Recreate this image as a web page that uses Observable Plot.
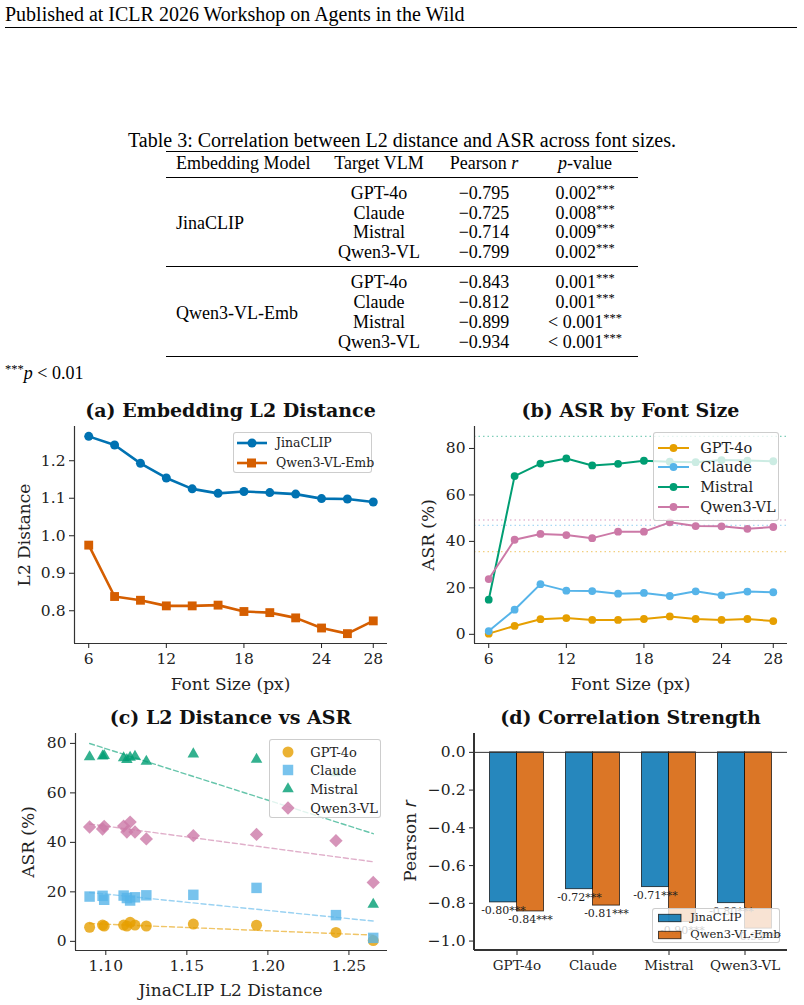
<!DOCTYPE html>
<html><head><meta charset="utf-8">
<script src="https://cdn.jsdelivr.net/npm/d3@7"></script>
<script src="https://cdn.jsdelivr.net/npm/@observablehq/plot@0.6"></script>
<style>
body{margin:0;background:#fff;}
#page{position:relative;width:804px;height:1005px;overflow:hidden;background:#fff;font-family:"Liberation Serif","Times New Roman",serif;color:#000;}
.abs{position:absolute;white-space:nowrap;line-height:1;}
.title{font-family:"DejaVu Serif",serif;font-weight:bold;font-size:19px;color:#111;}
.axl{font-family:"DejaVu Serif",serif;font-size:17px;color:#222;}
.legend{position:absolute;background:rgba(255,255,255,0.8);border:1px solid rgba(200,200,200,0.9);border-radius:3px;box-sizing:border-box;}
.legend .row{position:absolute;left:0;line-height:1;white-space:nowrap;font-family:"DejaVu Serif",serif;color:#222;}
.legend svg{position:absolute;}
sup.st{font-size:12.5px;vertical-align:6px;line-height:0;}
</style></head>
<body><div id="page"></div>
<script>
// ---------------- data ----------------
const fontSizes = [6, 8, 10, 12, 14, 16, 18, 20, 22, 24, 26, 28];
const embNames = ["JinaCLIP", "Qwen3-VL-Emb"];
const jinaL2 = [1.265, 1.242, 1.193, 1.154, 1.125, 1.113, 1.118, 1.115, 1.111, 1.099, 1.098, 1.090];
const qwenEmbL2 = [0.975, 0.838, 0.828, 0.813, 0.813, 0.815, 0.798, 0.795, 0.781, 0.754, 0.739, 0.773];
const vlmNames = ["GPT-4o", "Claude", "Mistral", "Qwen3-VL"];
const asrGPT4o = [0.3, 3.6, 6.5, 7.0, 6.2, 6.2, 6.6, 7.7, 6.6, 6.2, 6.6, 5.7];
const asrClaude = [1.4, 10.6, 21.6, 18.8, 18.6, 17.5, 17.8, 16.5, 18.5, 16.8, 18.4, 18.1];
const asrMistral = [14.9, 68.1, 73.5, 75.7, 72.7, 73.4, 74.7, 74.3, 74.1, 75.0, 74.8, 74.5];
const asrQwenVL = [23.8, 40.7, 43.2, 42.7, 41.4, 44.2, 44.2, 48.2, 46.6, 46.5, 45.4, 46.2];
const baselineASR = [35.6, 46.9, 85.2, 49.2];
const pearsonJina = [-0.795, -0.725, -0.714, -0.799];
const pearsonQwen = [-0.843, -0.812, -0.899, -0.934];
const pValJina = ["0.002", "0.008", "0.009", "0.002"];
const pValQwen = ["0.001", "0.001", "< 0.001", "< 0.001"];
const fsTicks = [6, 12, 18, 24, 28];
const l2Ticks = [0.8, 0.9, 1.0, 1.1, 1.2];
const asrTicks = [0, 20, 40, 60, 80];
const distTicks = [1.10, 1.15, 1.20, 1.25];
const rTicks = [0, -0.2, -0.4, -0.6, -0.8, -1.0];

const embColors = ["#0072B2", "#D55E00"];
const vlmColors = ["#E69F00", "#56B4E9", "#009E73", "#CC79A7"];
const vlmSymbols = ["circle", "square", "triangle", "diamond2"];
const vlmSymR = [5.5, 5.9, 4.3, 6.0];
const asrAll = [asrGPT4o, asrClaude, asrMistral, asrQwenVL];

// ---------------- helpers ----------------
const page = document.getElementById("page");
function put(html, x, y, o = {}) {
  const d = document.createElement("div");
  d.className = "abs " + (o.cls || "");
  d.innerHTML = html;
  d.style.left = x + "px"; d.style.top = y + "px";
  const ax = o.anchor === "middle" ? "-50%" : o.anchor === "end" ? "-100%" : "0";
  d.style.transform = `translate(${ax},-50%)` + (o.rotate ? ` rotate(${o.rotate}deg)` : "");
  if (o.size) d.style.fontSize = o.size + "px";
  Object.assign(d.style, o.style || {});
  page.appendChild(d);
  return d;
}
function rule(x1, x2, y, h) {
  const d = document.createElement("div");
  Object.assign(d.style, {position: "absolute", left: x1 + "px", width: (x2 - x1) + "px", top: (y - h / 2) + "px", height: h + "px", background: "#000"});
  page.appendChild(d);
}
function placePlot(svg, x, y) {
  svg.style.position = "absolute";
  svg.style.left = x + "px"; svg.style.top = y + "px";
  page.appendChild(svg);
}
const plotStyle = {fontFamily: "DejaVu Serif", fontSize: "15.5px", color: "#222", background: "transparent", overflow: "visible"};

// ---------------- paper text & table ----------------
put("Published at ICLR 2026 Workshop on Agents in the Wild", 5, 14, {size: 20});
rule(5, 797, 27.5, 1);
put("Table 3: Correlation between L2 distance and ASR across font sizes.", 402, 140, {anchor: "middle", size: 20});
const tblL = 166, tblR = 638;
rule(tblL, tblR, 151.5, 1.4);
const col1 = 176, col2 = 379, col3 = 484, col4 = 585;
put("Embedding Model", col1, 163, {size: 18});
put("Target VLM", col2, 163, {anchor: "middle", size: 18});
put("Pearson <i>r</i>", col3, 163, {anchor: "middle", size: 18});
put("<i>p</i>-value", col4, 163, {anchor: "middle", size: 18});
rule(tblL, tblR, 177.5, 0.9);
const groupRows = [[193, 213, 232, 252], [282, 302, 322, 342]];
const groupR = [pearsonJina, pearsonQwen];
const groupP = [pValJina, pValQwen];
embNames.forEach((name, g) => {
  const ys = groupRows[g];
  put(name, col1, (ys[0] + ys[3]) / 2 + 0.5, {size: 18});
  vlmNames.forEach((v, i) => {
    put(v, col2, ys[i], {anchor: "middle", size: 18});
    put("\u2212" + Math.abs(groupR[g][i]).toFixed(3), col3, ys[i], {anchor: "middle", size: 18});
    put(groupP[g][i] + '<sup class="st">***</sup>', col4, ys[i], {anchor: "middle", size: 18});
  });
});
rule(tblL, tblR, 266, 0.9);
rule(tblL, tblR, 356.5, 1.4);
put('<sup class="st">***</sup><i>p</i> &lt; 0.01', 5, 373, {size: 18});

// ---------------- (a) ----------------
const dataA = fontSizes.flatMap((f, i) => [
  {f, v: jinaL2[i], s: embNames[0]}, {f, v: qwenEmbL2[i], s: embNames[1]}]);
const xDomFS = [4.9, 29.1];
const yDomA = [0.7127, 1.2913];
const plotA = Plot.plot({
  width: 400, height: 300, marginLeft: 74, marginRight: 13, marginTop: 26, marginBottom: 57,
  x: {domain: xDomFS}, y: {domain: yDomA},
  color: {domain: embNames, range: embColors},
  style: plotStyle,
  marks: [
    Plot.ruleX([xDomFS[0]], {stroke: "#333", strokeWidth: 1.2}),
    Plot.ruleY([yDomA[0]], {stroke: "#333", strokeWidth: 1.2}),
    Plot.axisX({ticks: fsTicks, tickSize: 5, tickPadding: 4, label: null}),
    Plot.axisY({ticks: l2Ticks, tickFormat: d3.format(".1f"), tickSize: 5, tickPadding: 4, label: null}),
    ...embNames.flatMap((n, k) => [
      Plot.line(dataA.filter(d => d.s === n), {x: "f", y: "v", stroke: "s", strokeWidth: 2.6}),
      Plot.dot(dataA.filter(d => d.s === n), {x: "f", y: "v", fill: "s", r: k ? 5 : 4.5, symbol: k ? "square" : "circle"})
    ])
  ]
});
placePlot(plotA, 0, 400);

// ---------------- (b) ----------------
const dataB = fontSizes.flatMap((f, i) => vlmNames.map((s, k) => ({f, v: asrAll[k][i], s})));
const baseB = vlmNames.map((s, k) => ({s, v: baselineASR[k]}));
const yDomB = [-3.95, 89.45];
const plotB = Plot.plot({
  width: 404, height: 300, marginLeft: 74, marginRight: 17, marginTop: 26, marginBottom: 57,
  x: {domain: xDomFS}, y: {domain: yDomB},
  color: {domain: vlmNames, range: vlmColors},
  style: plotStyle,
  marks: [
    Plot.ruleY(baseB, {y: "v", stroke: "s", strokeDasharray: "1.5,3", strokeOpacity: 0.5, strokeWidth: 1.3}),
    Plot.ruleX([xDomFS[0]], {stroke: "#333", strokeWidth: 1.2}),
    Plot.ruleY([yDomB[0]], {stroke: "#333", strokeWidth: 1.2}),
    Plot.axisX({ticks: fsTicks, tickSize: 5, tickPadding: 4, label: null}),
    Plot.axisY({ticks: asrTicks, tickSize: 5, tickPadding: 4, label: null}),
    ...vlmNames.flatMap(n => [
      Plot.line(dataB.filter(d => d.s === n), {x: "f", y: "v", stroke: "s", strokeWidth: 2}),
      Plot.dot(dataB.filter(d => d.s === n), {x: "f", y: "v", fill: "s", r: 3.9})
    ])
  ]
});
placePlot(plotB, 400, 400);

// ---------------- (c) ----------------
const dataC = fontSizes.flatMap((f, i) => vlmNames.map((s, k) => ({x: jinaL2[i], y: asrAll[k][i], s})));
const xDomC = [1.0813, 1.2738], yDomC = [-3.7, 84.0];
const plotC = Plot.plot({
  width: 400, height: 300, marginLeft: 75, marginRight: 13, marginTop: 28, marginBottom: 55,
  x: {domain: xDomC}, y: {domain: yDomC},
  color: {domain: vlmNames, range: vlmColors},
  style: plotStyle,
  marks: [
    Plot.ruleX([xDomC[0]], {stroke: "#333", strokeWidth: 1.2}),
    Plot.ruleY([yDomC[0]], {stroke: "#333", strokeWidth: 1.2}),
    Plot.axisX({ticks: distTicks, tickFormat: d3.format(".2f"), tickSize: 5, tickPadding: 4, label: null}),
    Plot.axisY({ticks: asrTicks, tickSize: 5, tickPadding: 4, label: null}),
    ...vlmNames.flatMap((n, k) => [
      Plot.dot(dataC.filter(d => d.s === n), {x: "x", y: "y", fill: "s", fillOpacity: 0.8, symbol: vlmSymbols[k], r: vlmSymR[k]}),
      Plot.linearRegressionY(dataC.filter(d => d.s === n), {x: "x", y: "y", stroke: "s", ci: 0, strokeDasharray: "5,3", strokeOpacity: 0.6, strokeWidth: 1.4})
    ])
  ]
});
placePlot(plotC, 0, 705);

// ---------------- (d) ----------------
const dataD = vlmNames.flatMap((m, i) => [
  {m, s: embNames[0], r: pearsonJina[i]}, {m, s: embNames[1], r: pearsonQwen[i]}]);
const yDomD = [-1.05, 0.1];
const plotD = Plot.plot({
  width: 404, height: 300, marginLeft: 74, marginRight: 17, marginTop: 28, marginBottom: 55,
  x: {domain: vlmNames, paddingInner: 0.647, paddingOuter: 0.369},
  y: {domain: yDomD},
  color: {domain: embNames, range: embColors},
  style: plotStyle,
  marks: [
    ...embNames.map((n, k) => Plot.barY(dataD.filter(d => d.s === n), {
      x: "m", y: "r", fill: "s", fillOpacity: 0.85, stroke: "#000", strokeOpacity: 0.75, strokeWidth: 0.9, dx: k ? 13.5 : -13.5})),
    Plot.ruleY([0], {stroke: "#333", strokeWidth: 1}),
    ...embNames.map((n, k) => Plot.text(dataD.filter(d => d.s === n), {
      x: "m", y: d => d.r - 0.02, text: d => d.r.toFixed(2) + "***", dx: k ? 13.5 : -13.5,
      lineAnchor: "top", fontSize: 11, fill: "#222"})),
    Plot.axisX({tickSize: 5, tickPadding: 5, label: null, fontSize: 13.5}),
    Plot.axisY({ticks: rTicks, tickFormat: d3.format(".1f"), tickSize: 5, tickPadding: 4, label: null})
  ]
});
placePlot(plotD, 400, 705);
// spines for (d)
(function () {
  const L = document.createElement("div");
  Object.assign(L.style, {position: "absolute", left: "473.4px", top: "733px", width: "1.2px", height: "217px", background: "#333"});
  page.appendChild(L);
  const B = document.createElement("div");
  Object.assign(B.style, {position: "absolute", left: "474px", top: "949.4px", width: "313px", height: "1.2px", background: "#333"});
  page.appendChild(B);
})();

// ---------------- titles & axis labels ----------------
put("(a) Embedding L2 Distance", 230.5, 410, {anchor: "middle", cls: "title"});
put("(b) ASR by Font Size", 630.5, 410, {anchor: "middle", cls: "title"});
put("(c) L2 Distance vs ASR", 230.5, 717, {anchor: "middle", cls: "title"});
put("(d) Correlation Strength", 630.5, 717, {anchor: "middle", cls: "title"});
put("Font Size (px)", 230.5, 684, {anchor: "middle", cls: "axl"});
put("Font Size (px)", 630.5, 684, {anchor: "middle", cls: "axl"});
put("JinaCLIP L2 Distance", 230.5, 990, {anchor: "middle", cls: "axl"});
put("L2 Distance", 24, 535, {anchor: "middle", cls: "axl", rotate: -90});
put("ASR (%)", 428, 535, {anchor: "middle", cls: "axl", rotate: -90});
put("ASR (%)", 28, 842, {anchor: "middle", cls: "axl", rotate: -90});
put('Pearson <i style="font-family:\'DejaVu Sans\'">r</i>', 410, 841, {anchor: "middle", cls: "axl", rotate: -90});

// ---------------- legends ----------------
function legend(x, y, w, h, rows) {
  const box = document.createElement("div");
  box.className = "legend";
  Object.assign(box.style, {left: x + "px", top: y + "px", width: w + "px", height: h + "px"});
  rows.forEach(r => {
    const s = document.createElementNS("http://www.w3.org/2000/svg", "svg");
    s.setAttribute("width", r.gw); s.setAttribute("height", 16);
    s.style.left = r.gx + "px"; s.style.top = (r.y - 8) + "px";
    s.innerHTML = r.glyph;
    box.appendChild(s);
    const t = document.createElement("div");
    t.className = "row"; t.textContent = r.text;
    Object.assign(t.style, {left: r.tx + "px", top: r.y + "px", fontSize: r.fs + "px", transform: "translateY(-50%)"});
    box.appendChild(t);
  });
  page.appendChild(box);
}
const symTypes = {circle: d3.symbolCircle, square: d3.symbolSquare, triangle: d3.symbolTriangle, diamond2: d3.symbolDiamond2};
const sym = (name, c, r, op) => {
  const p = d3.symbol(symTypes[name], Math.PI * r * r)();
  return `<path transform="translate(12,8)" d="${p}" fill="${c}" fill-opacity="${op}"/>`;
};
legend(233, 432, 139, 41, embNames.map((n, k) => ({
  y: 10 + 20 * k, gx: 3, gw: 30, tx: 42, fs: 12.5, text: n,
  glyph: `<line x1="0" x2="30" y1="8" y2="8" stroke="${embColors[k]}" stroke-width="2.6"/>` +
    (k ? `<rect x="10" y="3.5" width="9" height="9" fill="${embColors[k]}"/>` : `<circle cx="15" cy="8" r="4.5" fill="${embColors[k]}"/>`)
})));
legend(652.7, 432.3, 126.3, 88.4, vlmNames.map((n, k) => ({
  y: 14.5 + 19.7 * k, gx: 4, gw: 31, tx: 46.5, fs: 14.5, text: n,
  glyph: `<line x1="0" x2="31" y1="8" y2="8" stroke="${vlmColors[k]}" stroke-width="2"/><circle cx="15.5" cy="8" r="3.9" fill="${vlmColors[k]}"/>`
})));
legend(269, 739.3, 111.7, 78.4, vlmNames.map((n, k) => ({
  y: 11.4 + 18.7 * k, gx: 5.7, gw: 24, tx: 40.3, fs: 13, text: n,
  glyph: sym(vlmSymbols[k], vlmColors[k], vlmSymR[k], 0.8)
})));
legend(652.3, 908.3, 127.7, 35, embNames.map((n, k) => ({
  y: 8.7 + 16.6 * k, gx: 4.5, gw: 24, tx: 37, fs: 11.5, text: n,
  glyph: `<rect x="0.5" y="4.3" width="22.5" height="7.4" fill="${embColors[k]}" fill-opacity="0.85" stroke="#000" stroke-opacity="0.75" stroke-width="0.9"/>`
})));
</script>
</body></html>
